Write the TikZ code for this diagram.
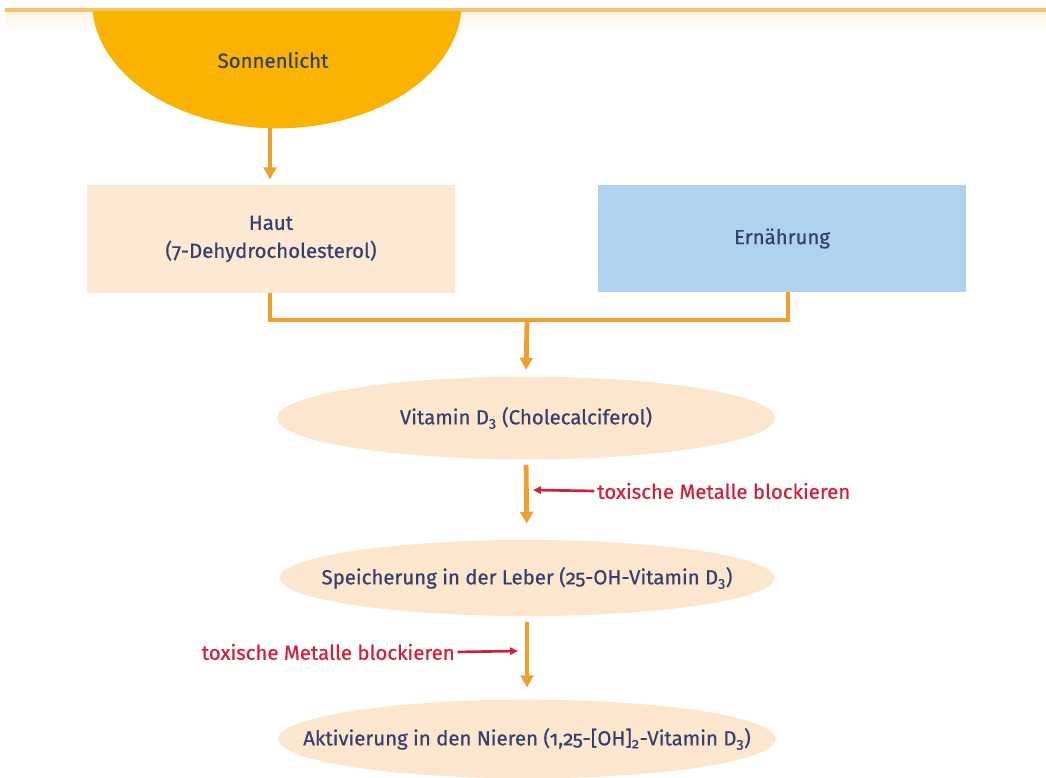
\documentclass[tikz,border=0pt]{standalone}
\usepackage{fontspec}
\setmainfont{Fira Sans}[Numbers=OldStyle, FakeBold=0.6]
\usetikzlibrary{shapes.geometric,arrows.meta}
\definecolor{sunc}{HTML}{F9B300}
\definecolor{orng}{HTML}{EEA02C}
\definecolor{peach}{HTML}{FDE8D3}
\definecolor{ellc}{HTML}{FCE6CE}
\definecolor{bluec}{HTML}{AFD2EF}
\definecolor{navy}{HTML}{34416D}
\definecolor{redc}{HTML}{D21F3C}
\definecolor{topl}{HTML}{F6C167}
\definecolor{topband}{HTML}{FFF5E4}
\tikzset{
  txt/.style={text=navy, font=\fontsize{15.3}{21}\selectfont, inner sep=0pt},
  rtxt/.style={text=redc, font=\fontsize{15.3}{16}\selectfont, inner sep=0pt},
  boxnode/.style={txt, rectangle, minimum width=276pt, minimum height=81pt, align=center},
  ellnode/.style={txt, ellipse, fill=ellc, inner sep=0pt},
  oline/.style={draw=orng, line width=3.6pt, line join=miter},
  oarrow/.style={oline, -{Triangle[length=9pt,width=9.5pt]}},
  rarrow/.style={draw=redc, line width=2pt, -{Triangle[length=6pt,width=5.5pt]}}
}
\begin{document}
\begin{tikzpicture}[x=0.75pt,y=-0.75pt]
\useasboundingbox (0,0) rectangle (1046,778);
% top band
\shade[top color=topband, bottom color=white] (5,12) rectangle (1046,32);
\fill[topl] (5,8) rectangle (1046,12);
% sun
\begin{scope}
  \clip (0,11) rectangle (1046,200);
  \fill[sunc] (277,3) ellipse [x radius=138.5pt, y radius=94pt];
\end{scope}
\node[txt] (sun) at (273,60) {Sonnenlicht};
\coordinate (sunb) at (270,128);
% boxes
\node[boxnode, fill=peach] (haut) at (271,239) {Haut\\(7-Dehydrocholesterol)};
\node[boxnode, fill=bluec, minimum height=80pt] (ern) at (782,238.5) {Ernährung};
% ellipses
\node[ellnode, minimum width=373.5pt, minimum height=62pt] (vit) at (526,418) {\makebox[0pt]{Vitamin D\textsubscript{3} (Cholecalciferol)}};
\node[ellnode, minimum width=371pt, minimum height=57pt] (spe) at (527,578) {\makebox[0pt]{Speicherung in der Leber (25-OH-Vitamin D\textsubscript{3})}};
\node[ellnode, minimum width=373pt, minimum height=59pt] (akt) at (527,739) {\makebox[0pt]{Aktivierung in den Nieren (1,25-[OH]\textsubscript{2}-Vitamin D\textsubscript{3})}};
% connectors
\draw[oarrow, shorten >=4pt] (sunb) -- (haut.north -| sunb);
\coordinate (join) at (527,320);
\coordinate (ernb) at ([xshift=4.5pt]ern.south);
\draw[oline] ([xshift=-0.75pt]haut.south) |- (ernb |- join) -- (ernb);
\draw[oarrow, shorten >=5pt] (join) -- (vit.north);
\draw[oarrow, shorten <=4pt, shorten >=12pt] (vit.south) -- (spe.north);
\draw[oarrow, shorten <=4pt, shorten >=9pt] (spe.south) -- (akt.north);
% red labels
\node[rtxt, anchor=west] (tox1) at (597,491) {toxische Metalle blockieren};
\coordinate (r1) at (533,490);
\draw[rarrow, shorten <=2pt] (tox1.west) -- (r1);
\node[rtxt, anchor=east] (tox2) at (455,652) {toxische Metalle blockieren};
\coordinate (r2) at (518,651);
\draw[rarrow, shorten <=2pt] (tox2.east) -- (r2);
\end{tikzpicture}
\end{document}
